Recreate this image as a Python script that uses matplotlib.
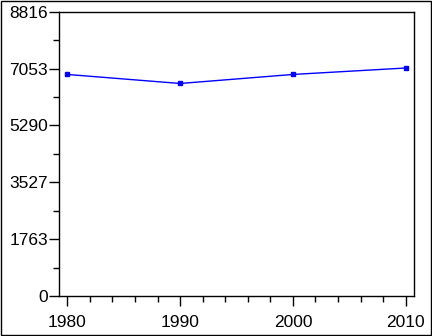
import numpy as np
import matplotlib.pyplot as plt
from matplotlib.patches import Rectangle
from matplotlib.ticker import MultipleLocator

# data
years = [1980, 1990, 2000, 2010]
values = [6870, 6590, 6870, 7070]
yticks = [0, 1763, 3527, 5290, 7053, 8816]
xticks = [1980, 1990, 2000, 2010]

plt.rcParams["font.family"] = ["Liberation Sans", "DejaVu Sans"]

fig = plt.figure(figsize=(4.32, 3.36), dpi=100)
ax = fig.add_axes([59 / 432, 1 - 296 / 336, (414 - 59) / 432, (296 - 11.7) / 336])

# whole-figure border
fig.patches.append(Rectangle((0.0015, 0.002), 0.996, 0.995, transform=fig.transFigure,
                             fill=False, ec="black", lw=1.0))

ax.plot(years, values, color="blue", lw=1.0, marker="s", ms=2.2, mec="blue", mfc="blue")

ax.set_xlim(1979.26, 2010.74)
ax.set_ylim(0, 8816)
ax.set_xticks(xticks)
ax.set_xticklabels([str(x) for x in xticks])
ax.xaxis.set_minor_locator(MultipleLocator(2))
ax.set_yticks(yticks)
ax.set_yticklabels([str(y) for y in yticks])
ax.set_yticks([(yticks[i] + yticks[i + 1]) / 2 for i in range(len(yticks) - 1)], minor=True)

for s in ax.spines.values():
    s.set_linewidth(1.0)
ax.tick_params(which="major", length=7, width=1.0, labelsize=12.5, direction="out")
ax.tick_params(which="minor", length=4, width=1.0, direction="out")
ax.tick_params(axis="y", which="major", pad=1)
ax.tick_params(axis="x", which="major", pad=7)

fig.savefig("out.png", dpi=100)
